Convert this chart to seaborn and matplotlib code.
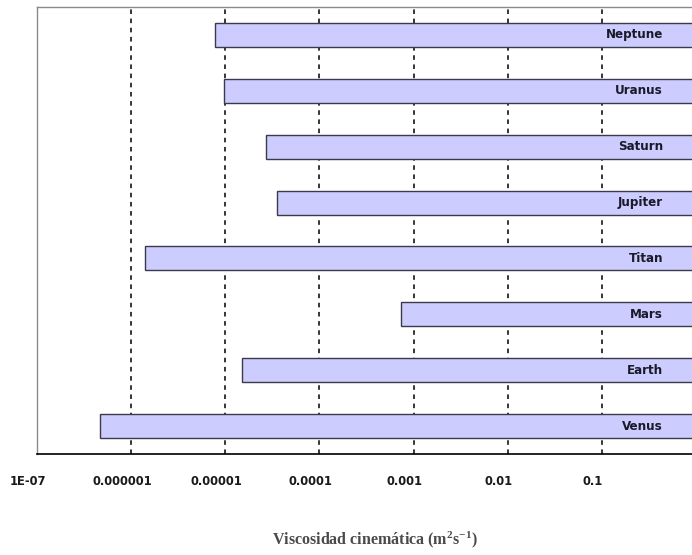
import matplotlib
matplotlib.use("Agg")
import matplotlib.pyplot as plt
import matplotlib.transforms as mtransforms
from matplotlib import font_manager
import seaborn as sns
import pandas as pd

# Minimum kinematic viscosity of each atmosphere (m^2 s^-1), bar runs to the upper value
bodies = ["Neptune", "Uranus", "Saturn", "Jupiter", "Titan", "Mars", "Earth", "Venus"]
visc_min = [7.8e-6, 9.8e-6, 2.7e-5, 3.5e-5, 1.4e-6, 7.4e-4, 1.5e-5, 4.7e-7]
visc_max = [1.0, 1.0, 1.0, 1.0, 1.0, 1.0, 1.0, 1.0]
tick_values = [1e-7, 1e-6, 1e-5, 1e-4, 1e-3, 1e-2, 1e-1]
tick_labels = ["1E-07", "0.000001", "0.00001", "0.0001", "0.001", "0.01", "0.1"]

df = pd.DataFrame({"body": bodies, "vmin": visc_min, "vmax": visc_max})

sns.set_theme(style="white")
plt.rcParams["mathtext.fontset"] = "custom"
plt.rcParams["mathtext.rm"] = "Liberation Serif:bold"
plt.rcParams["mathtext.it"] = "Liberation Serif:bold"
plt.rcParams["mathtext.bf"] = "Liberation Serif:bold"


def pick_narrow_bold():
    """Find a bold condensed/narrow sans face if one is installed."""
    best = None
    for f in font_manager.fontManager.ttflist:
        narrow = ("Narrow" in f.name or "Condensed" in f.name
                  or f.stretch in ("condensed", "semi-condensed", "extra-condensed"))
        bold = f.weight in ("bold", 700, 600, "semibold", "demibold") or \
            (isinstance(f.weight, int) and f.weight >= 600)
        if narrow and bold and "Serif" not in f.name and "Mono" not in f.name:
            best = f
            break
    if best is not None:
        return font_manager.FontProperties(fname=best.fname)
    return font_manager.FontProperties(family=["Roboto", "DejaVu Sans"],
                                       weight="bold", stretch="condensed")


label_font = pick_narrow_bold()

fig = plt.figure(figsize=(6.92, 5.55), dpi=100)
W, H = 692, 555
left_px, right_px, top_px, bot_px = 37, 696, 7, 454
ax = fig.add_axes([left_px / W, 1 - bot_px / H, (right_px - left_px) / W, (bot_px - top_px) / H])

ax.set_xscale("log")
sns.barplot(data=df, y="body", x="vmax", orient="h", ax=ax,
            color="#ccccff", saturation=1, width=0.43)
# each bar starts at the minimum viscosity
for patch, lo, hi in zip(ax.patches, df["vmin"], df["vmax"]):
    patch.set_x(lo)
    patch.set_width(hi - lo)
    patch.set_edgecolor("#3a3a4a")
    patch.set_linewidth(1.0)

ax.set_xlim(1e-7, 1.0)
ax.set_ylim(len(bodies) - 0.5, -0.5)

ax.set_xticks(tick_values)
ax.set_xticklabels(tick_labels)
ax.xaxis.set_minor_locator(matplotlib.ticker.NullLocator())
ax.tick_params(axis="x", which="major", direction="out", length=5, width=1,
               color="black", pad=10, labelcolor="#1a1a1a")
offset = mtransforms.ScaledTranslation(-9 / 100, 0, fig.dpi_scale_trans)
for lab in ax.get_xticklabels():
    lab.set_fontproperties(label_font)
    lab.set_fontsize(9.3)
    lab.set_transform(lab.get_transform() + offset)

ax.set_yticks([])
ax.set_ylabel("")
ax.set_xlabel("")

for x in tick_values[1:]:
    ax.axvline(x, color="black", linestyle=(0, (3, 3)), linewidth=1.1, zorder=0)

for s in ["left", "top"]:
    ax.spines[s].set_color("#8a8a8a")
    ax.spines[s].set_linewidth(1.0)
ax.spines["right"].set_visible(False)
ax.spines["bottom"].set_color("black")
ax.spines["bottom"].set_linewidth(1.2)

# planet names inside the bars, near the right end
for i, name in enumerate(bodies):
    ax.text((663 - left_px) / (right_px - left_px), i, name,
            transform=ax.get_yaxis_transform(), ha="right", va="center",
            fontproperties=label_font, fontsize=9.5, color="#1a1a2a")

fig.text(375 / W, 1 - 540 / H, r"Viscosidad cinemática (m$^{2}$s$^{-1}$)",
         ha="center", va="center", fontsize=11.5, fontweight="bold",
         color="#4a4a4a", family=["Liberation Serif", "DejaVu Serif"])

fig.savefig("out.png", dpi=100, facecolor="white")
